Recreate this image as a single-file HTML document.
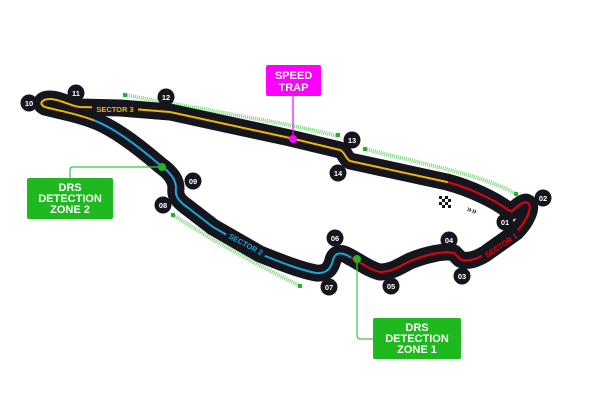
<!DOCTYPE html>
<html><head><style>
html,body{margin:0;padding:0;background:#fff;}
svg{display:block;font-family:"Liberation Sans",sans-serif;font-weight:bold;}
</style></head><body>
<svg width="600" height="400" viewBox="0 0 600 400" xmlns="http://www.w3.org/2000/svg">
<g fill="none" stroke="#7fd87f" stroke-width="4" stroke-dasharray="1 1">
<path d="M125,95 L290,125 L338,136"/>
<path d="M365,149 L450,170 C480,178 500,185 516,194"/>
<path d="M173,215 L210,238 L255,263 L300,286"/>
</g>
<g fill="#22b422"><rect x="123" y="93" width="4" height="4"/><rect x="336" y="133" width="4" height="4"/><rect x="363" y="147" width="4" height="4"/><rect x="514" y="192" width="4" height="4"/><rect x="171" y="213" width="4" height="4"/><rect x="298" y="284" width="4" height="4"/></g>
<g fill="none" stroke-linecap="round" stroke-linejoin="round">
<g stroke="#15151e" stroke-width="17">
<path d="M447,182 C470,188 495,200 508,210 L512,211 C518,206 524,200 528,203 C533,207 526,222 516,232 L485,254 C475,260 466,262 460,259 L454,253 C445,250 425,255 410,261 C400,266 392,272 380,272 C370,270 360,262 350,257"/>
<path d="M350,257 C342,252 335,252 333,260 C331,268 327,274 316,273 C300,270 280,262 260,254 L213,227 L187,207 C177,200 175,195 176,188 C176,180 170,172 160,165 C140,148 115,128 93,120"/>
<path d="M93,120 C75,113 55,110 45,107 C38,104 42,99 50,99 C60,99 70,106 80,107 L120,108 L170,112 L290,138 L340,150 C345,152 345,158 350,161 L447,182"/>
</g>
<path stroke="#e8000b" stroke-width="2" d="M447,182 C470,188 495,200 508,210 L512,211 C518,206 524,200 528,203 C533,207 526,222 516,232 L485,254 C475,260 466,262 460,259 L454,253 C445,250 425,255 410,261 C400,266 392,272 380,272 C370,270 360,262 350,257"/>
<path stroke="#1ba6d8" stroke-width="2" d="M350,257 C342,252 335,252 333,260 C331,268 327,274 316,273 C300,270 280,262 260,254 L213,227 L187,207 C177,200 175,195 176,188 C176,180 170,172 160,165 C140,148 115,128 93,120"/>
<path stroke="#f2b600" stroke-width="2" d="M93,120 C75,113 55,110 45,107 C38,104 42,99 50,99 C60,99 70,106 80,107 L120,108 L170,112 L290,138 L340,150 C345,152 345,158 350,161 L447,182"/>
</g>
<rect x="92" y="104" width="46" height="9" fill="#15151e"/>
<text x="115" y="112" font-size="7.5" fill="#f2b600" text-anchor="middle">SECTOR 3</text>
<g transform="translate(246,244) rotate(28)"><rect x="-22" y="-5" width="44" height="9" fill="#15151e"/><text x="0" y="3" font-size="7.5" fill="#1ba6d8" text-anchor="middle">SECTOR 2</text></g>
<g transform="translate(501,245) rotate(-34)"><rect x="-22" y="-5" width="44" height="9" fill="#15151e"/><text x="0" y="3" font-size="7.5" fill="#e8000b" text-anchor="middle">SECTOR 1</text></g>
<g fill="#15151e">
<rect x="439" y="196" width="3" height="3"/><rect x="445" y="196" width="3" height="3"/><rect x="442" y="199" width="3" height="3"/><rect x="448" y="199" width="3" height="3"/><rect x="439" y="202" width="3" height="3"/><rect x="445" y="202" width="3" height="3"/><rect x="442" y="205" width="3" height="3"/><rect x="448" y="205" width="3" height="3"/>
</g>
<text x="467" y="213" font-size="9" fill="#333" transform="rotate(20 472 210)">»»</text>
<g font-size="7.5" fill="#fff" text-anchor="middle">
<g><circle cx="29" cy="103" r="8.5" fill="#15151e"/><text x="29" y="106">10</text></g>
<g><circle cx="76" cy="93" r="8.5" fill="#15151e"/><text x="76" y="96">11</text></g>
<g><circle cx="166" cy="97" r="8.5" fill="#15151e"/><text x="166" y="100">12</text></g>
<g><circle cx="352" cy="140" r="8.5" fill="#15151e"/><text x="352" y="143">13</text></g>
<g><circle cx="338" cy="173" r="8.5" fill="#15151e"/><text x="338" y="176">14</text></g>
<g><circle cx="193" cy="181" r="8.5" fill="#15151e"/><text x="193" y="184">09</text></g>
<g><circle cx="163" cy="205" r="8.5" fill="#15151e"/><text x="163" y="208">08</text></g>
<g><circle cx="335" cy="238" r="8.5" fill="#15151e"/><text x="335" y="241">06</text></g>
<g><circle cx="329" cy="287" r="8.5" fill="#15151e"/><text x="329" y="290">07</text></g>
<g><circle cx="391" cy="286" r="8.5" fill="#15151e"/><text x="391" y="289">05</text></g>
<g><circle cx="449" cy="240" r="8.5" fill="#15151e"/><text x="449" y="243">04</text></g>
<g><circle cx="462" cy="276" r="8.5" fill="#15151e"/><text x="462" y="279">03</text></g>
<g><circle cx="505" cy="222" r="8.5" fill="#15151e"/><text x="505" y="225">01</text></g>
<g><circle cx="543" cy="198" r="8.5" fill="#15151e"/><text x="543" y="201">02</text></g>
</g>
<line x1="293" y1="96" x2="293" y2="138" stroke="#ff00ff" stroke-width="1.2"/>
<circle cx="293" cy="139" r="4" fill="#ff00ff"/>
<rect x="266" y="65" width="55" height="31" rx="2" fill="#ff00ff"/>
<text x="293.5" y="79" font-size="11" fill="#fff" text-anchor="middle">SPEED</text>
<text x="293.5" y="91" font-size="11" fill="#fff" text-anchor="middle">TRAP</text>
<path d="M70,178 L70,170 Q70,167 73,167 L162,167" fill="none" stroke="#3cc83c" stroke-width="1.2"/>
<circle cx="162" cy="167" r="4" fill="#22b422"/>
<rect x="27" y="178" width="86" height="41" rx="2" fill="#1fb81f"/>
<text x="70" y="191" font-size="11" fill="#fff" text-anchor="middle">DRS</text>
<text x="70" y="202" font-size="11" fill="#fff" text-anchor="middle">DETECTION</text>
<text x="70" y="213" font-size="11" fill="#fff" text-anchor="middle">ZONE 2</text>
<path d="M357,259 L357,335 Q357,339 361,339 L373,339" fill="none" stroke="#3cc83c" stroke-width="1.2"/>
<circle cx="357" cy="259" r="4" fill="#22b422"/>
<rect x="373" y="318" width="88" height="41" rx="2" fill="#1fb81f"/>
<text x="417" y="331" font-size="11" fill="#fff" text-anchor="middle">DRS</text>
<text x="417" y="342" font-size="11" fill="#fff" text-anchor="middle">DETECTION</text>
<text x="417" y="353" font-size="11" fill="#fff" text-anchor="middle">ZONE 1</text>
</svg>
</body></html>
